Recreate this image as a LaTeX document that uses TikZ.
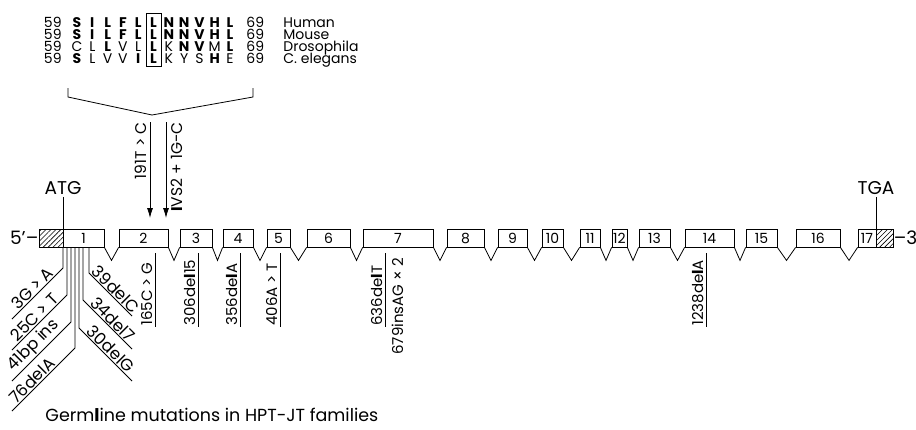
\documentclass[tikz,border=0pt]{standalone}
\usepackage{fontspec}
\setmainfont{Poppins}
\usetikzlibrary{arrows.meta,calc,patterns.meta}
\begin{document}
\begin{tikzpicture}[x=1pt,y=-1pt,line width=0.8pt,
  exon/.style={draw,inner sep=0pt,minimum height=18pt,font=\fontsize{14}{14}\selectfont},
  hatchbox/.style={draw,inner sep=0pt,minimum height=18pt,pattern={Lines[angle=45,distance=3.5pt,line width=0.6pt]}},
  big/.style={font=\fontsize{18.5}{18.5}\selectfont,inner sep=2pt},
  aln/.style={font=\fontsize{14}{14}\selectfont,inner sep=0pt,anchor=base},
  mutfont/.style={font=\fontsize{15}{15}\selectfont},
  vlab/.style={mutfont,rotate=90,anchor=base west,inner sep=0pt},
  vlabtop/.style={font=\fontsize{15.5}{15.5}\selectfont,rotate=90,anchor=base east,inner sep=0pt},
  diagL/.style={font=\fontsize{16.5}{16.5}\selectfont,rotate=45,anchor=south,inner sep=1pt},
  diagR/.style={font=\fontsize{16.5}{16.5}\selectfont,rotate=-45,anchor=south,inner sep=1pt},
  arr/.style={-{Latex[length=10pt,width=6pt]},line width=0.8pt},
]
\useasboundingbox (0,0) rectangle (916,429);

% ---------- alignment ----------
\foreach \c [count=\i from 0] in {\textbf{S},\textbf{I},\textbf{L},\textbf{F},\textbf{L},\textbf{L},\textbf{N},\textbf{N},\textbf{V},\textbf{H},\textbf{L}}
  \node[aln] (ra\i) at ({77+\i*15.3},27) {\c};
\foreach \c [count=\i from 0] in {\textbf{S},\textbf{I},\textbf{L},\textbf{F},\textbf{L},\textbf{L},\textbf{N},\textbf{N},\textbf{V},\textbf{H},\textbf{L}}
  \node[aln] (rb\i) at ({77+\i*15.3},39) {\c};
\foreach \c [count=\i from 0] in {C,L,\textbf{L},V,L,\textbf{L},K,\textbf{N},\textbf{V},M,\textbf{L}}
  \node[aln] (rc\i) at ({77+\i*15.3},51) {\c};
\foreach \c [count=\i from 0] in {\textbf{S},L,V,V,\textbf{I},\textbf{L},K,Y,S,\textbf{H},E}
  \node[aln] (rd\i) at ({77+\i*15.3},63) {\c};
\foreach \r/\y/\name in {a/27/Human,b/39/Mouse,c/51/Drosophila,d/63/C. elegans}{
  \node[aln,anchor=base east] (n\r) at (62,\y) {59};
  \node[aln,anchor=base west] (m\r) at (246,\y) {69};
  \node[aln,anchor=base west] (s\r) at (283,\y) {\name};
}
\node[draw,inner sep=0pt,minimum width=15,minimum height=53] (colbox) at (153.5,39.5) {};

% bracket
\coordinate (bl) at (68,88);
\coordinate (blb) at (68,97);
\coordinate (br) at (253,88);
\coordinate (brb) at (253,97);
\coordinate (bc) at (152,115);
\draw (bl) -- (blb) -- (bc) -- (brb) -- (br);

% arrows
\coordinate (a1s) at (150,122);
\coordinate (a1e) at (150,218);
\coordinate (a2s) at (166,122);
\coordinate (a2e) at (166,218);
\draw[arr] (a1s) -- (a1e);
\draw[arr] (a2s) -- (a2e);
\node[vlabtop] (l191) at (146,122) {191T > C};
\node[vlabtop] (livs) at (182,122) {\textbf{I}VS2 + 1G-C};

% ---------- gene ----------
\node[hatchbox,minimum width=24] (h1) at (51,238) {};
\node[hatchbox,minimum width=17] (h2) at (884.5,238) {};
\foreach \n/\a/\b in {1/63/104,2/119/168,3/180/212,4/223/253,5/267/290,6/307/350,7/363/433,8/447/484,9/498/527,10/542/563,11/580/600,12/612/627,13/639/670,14/685/734,15/746/777,16/796/840,17/858/876}
  \node[exon,minimum width={\b-\a}] (e\n) at ({(\a+\b)/2},238) {\n};
\foreach \i in {1,...,16}{
  \pgfmathtruncatemacro\j{\i+1}
  \draw (e\i.south east) -- ($(e\i.south east)!0.5!(e\j.south west)+(0,13)$) -- (e\j.south west);
}
\node[big,anchor=east,inner sep=0pt] (five) at (h1.west) {5’–};
\node[big,anchor=west,inner sep=0pt] (three) at (h2.east) {–3’};
\node[big] (atg) at (63,188) {ATG};
\node[big] (tga) at (876,188) {TGA};
\draw (atg.south) -- (atg.south |- e1.south west);
\draw (tga.south) -- (tga.south |- e17.south east);

% ---------- exon 1 mutations ----------
\coordinate (d1a) at (63,247);  \coordinate (d1b) at (63,268);  \coordinate (d1c) at (12,319);
\coordinate (d2a) at (67,247);  \coordinate (d2b) at (67,295);  \coordinate (d2c) at (12,350);
\coordinate (d3a) at (71,247);  \coordinate (d3b) at (71,322);  \coordinate (d3c) at (12,381);
\coordinate (d4a) at (75,247);  \coordinate (d4b) at (75,348);  \coordinate (d4c) at (12,411);
\coordinate (d5a) at (89,247);  \coordinate (d5b) at (89,273);  \coordinate (d5c) at (132,316);
\coordinate (d6a) at (83,247);  \coordinate (d6b) at (83,300);  \coordinate (d6c) at (132,349);
\coordinate (d7a) at (79,247);  \coordinate (d7b) at (79,328);  \coordinate (d7c) at (132,381);
\draw (d1a) -- (d1b) -- (d1c) node[diagL,pos=0.5] (t1) {3G > A};
\draw (d2a) -- (d2b) -- (d2c) node[diagL,pos=0.5] (t2) {25C > T};
\draw (d3a) -- (d3b) -- (d3c) node[diagL,pos=0.52] (t3) {41bp ins};
\draw (d4a) -- (d4b) -- (d4c) node[diagL,pos=0.6] (t4) {76delA};
\draw (d5a) -- (d5b) -- (d5c) node[diagR,pos=0.5] (t5) {39delC};
\draw (d6a) -- (d6b) -- (d6c) node[diagR,pos=0.5] (t6) {34del7};
\draw (d7a) -- (d7b) -- (d7c) node[diagR,pos=0.5] (t7) {30delG};

% ---------- vertical mutation labels ----------
\foreach \k/\x/\t in {a/155/165C > G,b/198/306de\textbf{l}15,c/240/356de\textbf{l}A,d/280/406A > T,e/385/636de\textbf{l}T,f/706/1238de\textbf{l}A}{
  \coordinate (v\k1) at (\x,253);
  \coordinate (v\k2) at (\x,327);
  \draw (v\k1) -- (v\k2);
  \node[vlab] (vt\k) at ({\x-3},326) {\t};
}
\node[vlab] (vtg) at (403,355) {679insAG × 2};

% caption
\node[font=\fontsize{17.5}{17.5}\selectfont,anchor=base west,inner sep=0pt] (cap) at (45,421) {Germ\textbf{l}ine mutations in HPT-JT families};
\end{tikzpicture}
\end{document}
